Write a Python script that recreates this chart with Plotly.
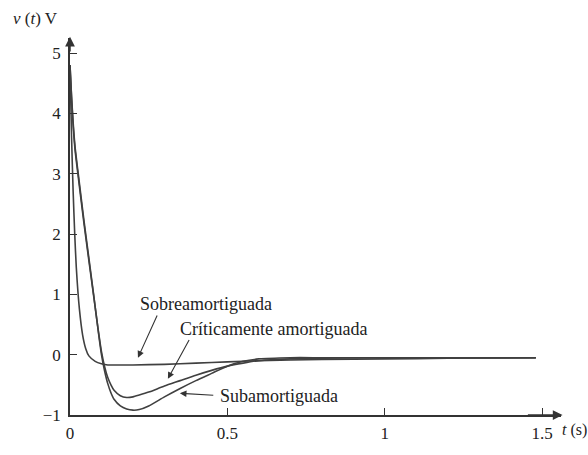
import plotly.graph_objects as go

# Time points (s) and voltages (V)
t_sobre = [0, 0.005, 0.01, 0.015, 0.02, 0.03, 0.04, 0.05, 0.06, 0.08, 0.1, 0.12, 0.15, 0.2, 0.3, 0.4, 0.5, 0.6, 0.8, 1.0, 1.2, 1.48]
v_sobre = [4.8, 3.6, 2.7, 2.0, 1.45, 0.75, 0.33, 0.1, -0.02, -0.11, -0.15, -0.17, -0.17, -0.17, -0.16, -0.14, -0.12, -0.1, -0.08, -0.07, -0.06, -0.05]

t_crit = [0, 0.005, 0.01, 0.016, 0.025, 0.035, 0.045, 0.06, 0.075, 0.09, 0.1, 0.11, 0.12, 0.13, 0.14, 0.16, 0.18, 0.2, 0.22, 0.25, 0.3, 0.35, 0.4, 0.45, 0.5, 0.55, 0.6, 0.7, 0.8, 1.0, 1.2, 1.48]
v_crit = [4.8, 4.25, 3.8, 3.4, 3.0, 2.57, 2.15, 1.56, 0.98, 0.4, 0.05, -0.2, -0.38, -0.5, -0.59, -0.68, -0.71, -0.7, -0.67, -0.62, -0.52, -0.43, -0.34, -0.26, -0.19, -0.14, -0.1, -0.07, -0.06, -0.05, -0.05, -0.05]

t_sub = [0, 0.005, 0.01, 0.016, 0.025, 0.035, 0.045, 0.06, 0.075, 0.09, 0.1, 0.11, 0.12, 0.13, 0.14, 0.16, 0.18, 0.2, 0.22, 0.25, 0.3, 0.35, 0.4, 0.45, 0.5, 0.55, 0.6, 0.7, 0.8, 1.0, 1.2, 1.48]
v_sub = [4.8, 4.28, 3.85, 3.45, 3.05, 2.62, 2.2, 1.6, 1.0, 0.38, 0.0, -0.27, -0.48, -0.63, -0.74, -0.85, -0.9, -0.92, -0.91, -0.85, -0.7, -0.56, -0.43, -0.31, -0.19, -0.11, -0.07, -0.05, -0.05, -0.05, -0.05, -0.05]

y_ticks = [5, 4, 3, 2, 1, 0, -1]
y_tick_text = ["5", "4", "3", "2", "1", "0", "\u22121"]
x_ticks = [0, 0.5, 1, 1.5]
x_tick_text = ["0", "0.5", "1", "1.5"]

FONT = "Liberation Serif"
LINE = "#404040"
AX = "#333333"

fig = go.Figure()
for t, v in [(t_sobre, v_sobre), (t_crit, v_crit), (t_sub, v_sub)]:
    fig.add_trace(go.Scatter(x=t, y=v, mode="lines",
                             line=dict(color=LINE, width=1.6, shape="spline", smoothing=0.6),
                             showlegend=False, hoverinfo="skip"))

fig.update_layout(
    width=588, height=455,
    margin=dict(l=70, r=27, t=38, b=28),
    paper_bgcolor="white", plot_bgcolor="white",
    font=dict(family=FONT, size=17, color="#222"),
    xaxis=dict(range=[0, 1.56], showgrid=False, zeroline=False,
               showline=True, linecolor=AX, linewidth=1.5,
               tickmode="array", tickvals=x_ticks, ticktext=x_tick_text,
               ticks="inside", ticklen=7, tickwidth=1.2, tickcolor=AX,
               ticklabelstandoff=2),
    yaxis=dict(range=[-1, 5.25], showgrid=False, zeroline=False,
               showline=True, linecolor=AX, linewidth=1.5,
               tickmode="array", tickvals=y_ticks, ticktext=y_tick_text,
               ticks="inside", ticklen=7, tickwidth=1.2, tickcolor=AX,
               ticklabelstandoff=4),
)

# axis arrowheads
fig.add_annotation(x=1.565, y=-1, ax=1.45, ay=-1, xref="x", yref="y", axref="x", ayref="y",
                   text="", showarrow=True, arrowhead=2, arrowsize=1.3, arrowwidth=1.5, arrowcolor=AX)
fig.add_annotation(x=0, y=5.27, ax=0, ay=5.0, xref="x", yref="y", axref="x", ayref="y",
                   text="", showarrow=True, arrowhead=2, arrowsize=1.3, arrowwidth=1.5, arrowcolor=AX)

# axis titles (paper coords relative to plot area)
fig.add_annotation(x=-0.12, y=1.051, xref="paper", yref="paper", text="<i>v</i> (<i>t</i>) V",
                   showarrow=False, xanchor="left", yanchor="middle")
fig.add_annotation(x=0.998, y=-0.041, xref="paper", yref="paper", text="<i>t</i> (s)",
                   showarrow=False, xanchor="left", yanchor="middle", font=dict(size=16))

# curve labels
labels = [("Sobreamortiguada", 0.433, 0.84),
          ("Críticamente amortiguada", 0.646, 0.43),
          ("Subamortiguada", 0.663, -0.69)]
for txt, x, y in labels:
    fig.add_annotation(x=x, y=y, xref="x", yref="y", text=txt, showarrow=False,
                       xanchor="center", yanchor="middle", font=dict(size=18))

arrows = [((0.216, -0.05), (0.279, 0.675)),
          ((0.311, -0.40), (0.381, 0.27)),
          ((0.349, -0.64), (0.46, -0.675))]
for (hx, hy), (tx, ty) in arrows:
    fig.add_annotation(x=hx, y=hy, ax=tx, ay=ty, xref="x", yref="y", axref="x", ayref="y",
                       text="", showarrow=True, arrowhead=2, arrowsize=1.2, arrowwidth=1.1, arrowcolor="#333")

fig.write_html("out.html", config={"displayModeBar": False},
               post_script="document.body.style.margin='0';")
